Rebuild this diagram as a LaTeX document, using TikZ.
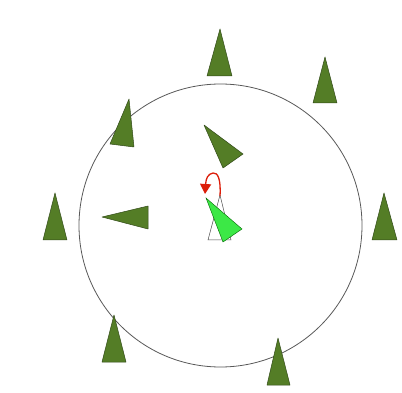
\documentclass[tikz,border=0pt]{standalone}
\usetikzlibrary{arrows.meta}
\definecolor{tree}{RGB}{84,125,38}
\definecolor{treeedge}{RGB}{50,75,25}
\definecolor{lightg}{RGB}{60,232,70}
\definecolor{arrowred}{RGB}{220,30,10}
\tikzset{
  treetri/.style={fill=tree,draw=treeedge,line width=0.5pt,line join=round},
  ghost/.style={fill=white,draw=black!70,line width=0.5pt},
  agent/.style={fill=lightg,draw=green!40!black,line width=0.4pt},
  ring/.style={draw=black!65,line width=0.8pt},
  turn/.style={draw=arrowred,line width=1.3pt,-{Triangle[length=10pt,width=11pt]}}
}
\begin{document}
\begin{tikzpicture}[x=1pt,y=-1pt]
\useasboundingbox (0,0) rectangle (402,393);
\fill[white] (0,0) rectangle (402,393);
% ring
\draw[ring] (220.5,225.5) circle (141.5);
% trees
\draw[treetri] (220,29) -- (232,76) -- (207,76) -- cycle;
\draw[treetri] (325,57) -- (337,103) -- (313,103) -- cycle;
\draw[treetri] (129,99) -- (134,147) -- (110,144) -- cycle;
\draw[treetri] (55,193) -- (67,240) -- (43,240) -- cycle;
\draw[treetri] (384,193) -- (397,240) -- (372,240) -- cycle;
\draw[treetri] (114,315) -- (126,362) -- (102,362) -- cycle;
\draw[treetri] (278,338) -- (290,385) -- (267,385) -- cycle;
\draw[treetri] (102,217) -- (148,206) -- (148,229) -- cycle;
\draw[treetri] (204,125) -- (243,154) -- (223,168) -- cycle;
% agent
\draw[ghost] (220,195) -- (231,240) -- (208,240) -- cycle;
\draw[agent] (206,198) -- (242,229) -- (223,242) -- cycle;
% turning arrow
\coordinate (s) at (220,196);
\coordinate (e) at (205,194);
\draw[turn] (s) .. controls (221,180) and (218,172) .. (213,173)
  .. controls (208,174) and (206,178) .. (e);
\end{tikzpicture}
\end{document}
